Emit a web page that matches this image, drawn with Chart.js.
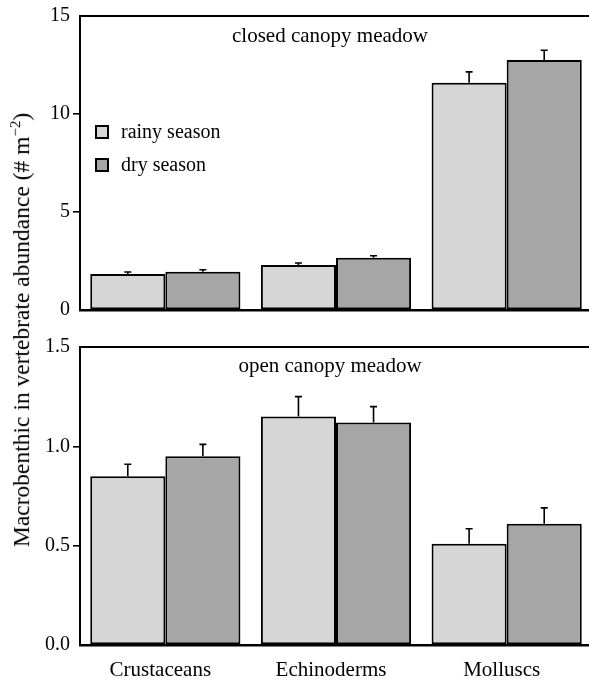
<!DOCTYPE html>
<html>
<head>
<meta charset="utf-8">
<script src="https://cdn.jsdelivr.net/npm/chart.js@4"></script>
<style>
  html, body { margin: 0; padding: 0; background: #fff; overflow: hidden; }
  body { width: 589px; height: 681px; position: relative; font-family: "Liberation Serif", "Times New Roman", serif; color: #000; }
  canvas { position: absolute; left: 0; }
  #closed-chart { top: 0; }
  #open-chart { top: 330px; }
  .panel-title { position: absolute; width: 300px; text-align: center; font-size: 21px; line-height: 21px; white-space: nowrap; }
  .legend-item { position: absolute; left: 95px; font-size: 20px; line-height: 20px; white-space: nowrap; }
  .legend-item span { display: inline-block; width: 14px; height: 14px; box-sizing: border-box; border: 2px solid #000; margin-right: 12px; vertical-align: -1px; }
  #y-title { position: absolute; left: 21px; top: 330px; transform: translate(-50%, -50%) rotate(-90deg); font-size: 23.5px; white-space: nowrap; }
</style>
</head>
<body>
<canvas id="closed-chart" width="592" height="330"></canvas>
<canvas id="open-chart" width="592" height="351"></canvas>

<div class="panel-title" style="left:180px; top:25px;">closed canopy meadow</div>
<div class="panel-title" style="left:180px; top:355px;">open canopy meadow</div>

<div class="legend-item" style="top:121px;"><span style="background:#d6d6d6"></span>rainy season</div>
<div class="legend-item" style="top:154px;"><span style="background:#a6a6a6"></span>dry season</div>

<div id="y-title">Macrobenthic in vertebrate abundance (# m<sup style="font-size:15px">−2</sup>)</div>

<script>
// データ
const categories = ['Crustaceans', 'Echinoderms', 'Molluscs'];
const seriesNames = ['rainy season', 'dry season'];
const seriesColors = ['#d6d6d6', '#a6a6a6'];

// closed canopy meadow
const closedRainy = [1.84, 2.30, 11.6];
const closedDry = [1.95, 2.67, 12.75];
const closedRainyErr = [0.10, 0.10, 0.55];
const closedDryErr = [0.10, 0.10, 0.50];
const closedTicks = [0, 5, 10, 15];

// open canopy meadow
const openRainy = [0.85, 1.15, 0.51];
const openDry = [0.95, 1.12, 0.61];
const openRainyErr = [0.06, 0.10, 0.075];
const openDryErr = [0.06, 0.08, 0.08];
const openTicks = [0.0, 0.5, 1.0, 1.5];

const FONT = { family: '"Liberation Serif", "Times New Roman", serif', size: 20 };

// 誤差棒 (上側のみ)
const errorBarPlugin = {
    id: 'errorBars',
    afterDatasetsDraw(chart) {
        const ctx = chart.ctx;
        const yScale = chart.scales.y;
        ctx.save();
        ctx.strokeStyle = '#000';
        ctx.lineWidth = 1.6;
        chart.data.datasets.forEach((ds, i) => {
            const meta = chart.getDatasetMeta(i);
            meta.data.forEach((bar, j) => {
                const top = yScale.getPixelForValue(ds.data[j] + ds.errors[j]);
                ctx.beginPath();
                ctx.moveTo(bar.x, bar.y);
                ctx.lineTo(bar.x, top);
                ctx.moveTo(bar.x - 3.5, top);
                ctx.lineTo(bar.x + 3.5, top);
                ctx.stroke();
            });
        });
        ctx.restore();
    }
};

function makeChart(canvasId, rainy, dry, rainyErr, dryErr, ticks, decimals, showLabels, padTop, xHeight) {
    const yMax = ticks[ticks.length - 1];
    const edgeColor = (c) => (c.tick && (c.tick.value === 0 || c.tick.value === yMax)) ? 'rgba(0,0,0,0)' : '#000';
    return new Chart(document.getElementById(canvasId), {
        type: 'bar',
        data: {
            labels: categories,
            datasets: [
                { label: seriesNames[0], data: rainy, errors: rainyErr, backgroundColor: seriesColors[0], borderColor: '#000', borderWidth: 2, borderSkipped: false },
                { label: seriesNames[1], data: dry, errors: dryErr, backgroundColor: seriesColors[1], borderColor: '#000', borderWidth: 2, borderSkipped: false }
            ]
        },
        plugins: [errorBarPlugin],
        options: {
            responsive: false,
            animation: false,
            events: [],
            categoryPercentage: 0.88,
            barPercentage: 1.0,
            layout: { padding: { top: padTop, left: 0, right: 0, bottom: 0 } },
            plugins: { legend: { display: false }, tooltip: { enabled: false } },
            scales: {
                x: {
                    type: 'category',
                    grid: { display: true, drawOnChartArea: false, drawTicks: false },
                    border: { display: true, color: '#000', width: 2.5 },
                    ticks: { display: showLabels, color: '#000', font: { ...FONT, size: 21 }, padding: 13, maxRotation: 0, labelOffset: -5 },
                    afterFit(s) { s.height = xHeight; }
                },
                x2: {
                    type: 'category',
                    position: 'top',
                    grid: { display: true, drawOnChartArea: false, drawTicks: false },
                    border: { display: true, color: '#000', width: 2 },
                    ticks: { display: false },
                    afterFit(s) { s.height = 0; }
                },
                y: {
                    min: 0,
                    max: yMax,
                    afterBuildTicks(s) { s.ticks = ticks.map(v => ({ value: v })); },
                    ticks: { color: '#000', font: FONT, padding: 3, callback: v => v.toFixed(decimals) },
                    grid: { drawOnChartArea: false, drawTicks: true, tickLength: 7, lineWidth: 1.6, color: edgeColor },
                    border: { display: true, color: '#000', width: 2 },
                    afterFit(s) { s.width = 80; }
                }
            }
        }
    });
}

makeChart('closed-chart', closedRainy, closedDry, closedRainyErr, closedDryErr, closedTicks, 0, false, 16, 20);
makeChart('open-chart', openRainy, openDry, openRainyErr, openDryErr, openTicks, 1, true, 17, 36);
</script>
</body>
</html>
